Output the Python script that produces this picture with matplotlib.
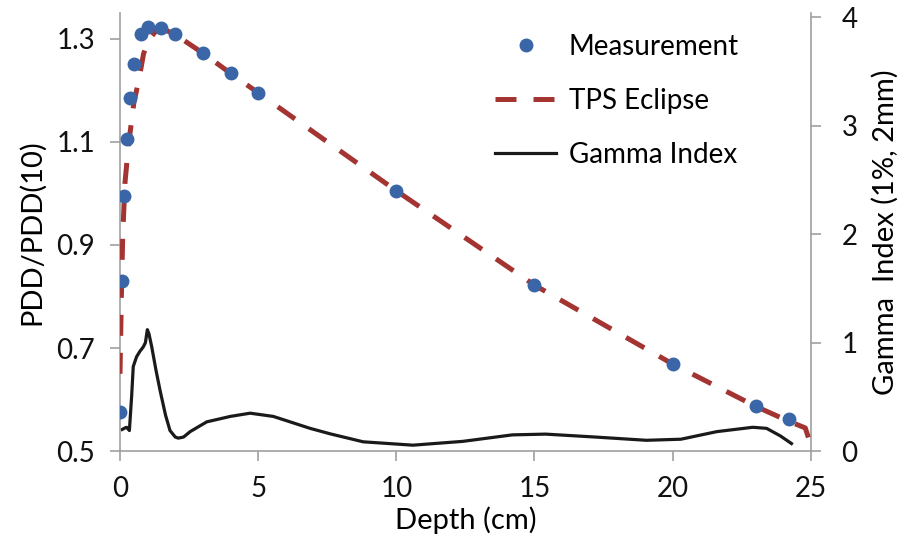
import matplotlib
matplotlib.use("Agg")
import matplotlib.pyplot as plt
from matplotlib.lines import Line2D

plt.rcParams['font.family'] = ['Lato', 'DejaVu Sans']

# measured PDD ratio
meas_depth = [0, 0.08, 0.16, 0.26, 0.37, 0.5, 0.76, 1.0, 1.5, 2.0, 3, 4, 5, 10, 15, 20, 23, 24.2]
meas_pdd = [0.575, 0.83, 0.995, 1.105, 1.185, 1.25, 1.31, 1.323, 1.321, 1.31, 1.273, 1.234,
            1.195, 1.005, 0.822, 0.669, 0.587, 0.562]

# TPS Eclipse calculation
tps_depth = [0, 0.05, 0.1, 0.18, 0.3, 0.5, 0.7, 0.85, 1.0, 1.3, 1.6, 2.0, 3, 4, 5, 10, 15, 20,
             23, 24.2, 24.8, 24.95, 25.0]
tps_pdd = [0.65, 0.8, 0.92, 1.02, 1.09, 1.175, 1.225, 1.27, 1.295, 1.315, 1.318, 1.308, 1.272,
           1.233, 1.195, 1.005, 0.822, 0.669, 0.587, 0.558, 0.545, 0.52, 0.3]

# gamma index (1%, 2mm)
gam_depth = [0.08, 0.15, 0.24, 0.34, 0.42, 0.48, 0.6, 0.72, 0.84, 0.92, 0.99, 1.05, 1.15, 1.3,
             1.45, 1.65, 1.81, 2.0, 2.11, 2.3, 2.54, 3.14, 3.99, 4.71, 5.55, 6.88, 7.6, 8.8,
             10.6, 12.4, 14.2, 15.4, 17.2, 19.05, 20.3, 21.6, 22.9, 23.4, 23.9, 24.3]
gam_val = [0.2, 0.21, 0.22, 0.19, 0.5, 0.78, 0.87, 0.92, 0.96, 1.0, 1.12, 1.08, 0.96, 0.75,
           0.56, 0.33, 0.19, 0.13, 0.12, 0.13, 0.18, 0.27, 0.32, 0.35, 0.32, 0.21, 0.16, 0.086,
           0.055, 0.09, 0.15, 0.157, 0.13, 0.10, 0.11, 0.18, 0.22, 0.21, 0.14, 0.07]

blue = '#3A66A7'
red = '#A33431'
grey = '#A0A0A0'
FS = 20

fig = plt.figure(figsize=(9.09, 5.39), dpi=100)
ax = fig.add_axes([0.132, 0.163, 0.760, 0.813])
ax2 = ax.twinx()

ax2.plot(gam_depth, gam_val, color='#1a1a1a', lw=2.3, zorder=2, solid_joinstyle='round')
ax.plot(tps_depth, tps_pdd, color=red, lw=3.6, dashes=(4.2, 3.4), dash_capstyle='butt', zorder=3)
ax.plot(meas_depth, meas_pdd, 'o', color=blue, ms=9, zorder=4)
ax.set_zorder(ax2.get_zorder() + 1)
ax.patch.set_visible(False)

ax.set_xlim(0, 25)
ax.set_ylim(0.5, 1.35)
ax2.set_ylim(0, 4.04)
ax.set_xticks([0, 5, 10, 15, 20, 25])
ax.set_yticks([0.5, 0.7, 0.9, 1.1, 1.3])
ax.set_yticklabels(['0.5', '0.7', '0.9', '1.1', '1.3'])
ax2.set_yticks([0, 1, 2, 3, 4])

for a in (ax, ax2):
    for s in a.spines.values():
        s.set_color(grey)
        s.set_linewidth(1.2)
    a.spines['top'].set_visible(False)
    a.tick_params(direction='out', length=7, width=1.2, color=grey, labelsize=FS,
                  labelcolor='#111111', pad=11)
ax2.tick_params(pad=15)
ax.spines['right'].set_visible(False)
ax2.spines['left'].set_visible(False)
ax2.spines['bottom'].set_visible(False)

ax.set_xlabel('Depth (cm)', fontsize=FS + 1, labelpad=3)
ax.set_ylabel('PDD/PDD(10)', fontsize=FS + 1, labelpad=8)
ax2.set_ylabel('Gamma  Index (1%, 2mm)', fontsize=FS + 1, labelpad=10)

handles = [
    Line2D([], [], ls='none', marker='o', color=blue, ms=9),
    Line2D([], [], color=red, lw=3.6, dashes=(4.2, 3.4), dash_capstyle='butt'),
    Line2D([], [], color='#1a1a1a', lw=2.3),
]
ax.legend(handles, ['Measurement', 'TPS Eclipse', 'Gamma Index'], loc='upper left',
          bbox_to_anchor=(495 / 909, 1 - 34 / 539), bbox_transform=fig.transFigure,
          frameon=False, fontsize=FS, handlelength=2.2, borderpad=0, borderaxespad=0,
          labelspacing=1.0, handletextpad=0.45)

fig.savefig('out.png', dpi=100)
